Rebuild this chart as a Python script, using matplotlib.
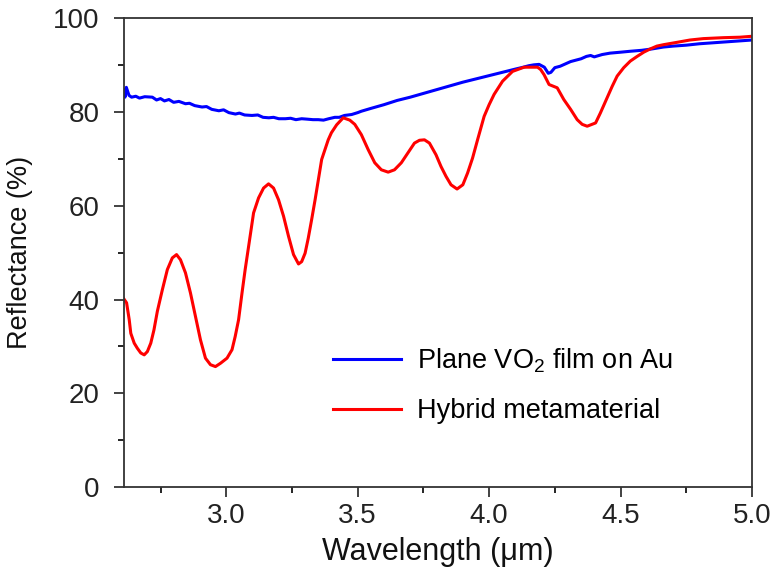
import matplotlib.pyplot as plt
from matplotlib.ticker import MultipleLocator

plt.rcParams['font.family'] = ['Liberation Sans', 'DejaVu Sans']
plt.rcParams['mathtext.fontset'] = 'custom'
plt.rcParams['mathtext.rm'] = 'Liberation Sans'

# Plane VO2 film on Au
wl_film = [2.61, 2.615, 2.62, 2.63, 2.64, 2.656, 2.67, 2.69, 2.719, 2.735, 2.75, 2.765,
           2.782, 2.80, 2.82, 2.845, 2.86, 2.88, 2.908, 2.925, 2.945, 2.972, 2.99, 3.01,
           3.035, 3.05, 3.07, 3.098, 3.12, 3.14, 3.162, 3.18, 3.20, 3.225, 3.245, 3.265,
           3.287, 3.31, 3.33, 3.35, 3.37, 3.39, 3.413, 3.43, 3.45, 3.477, 3.50, 3.514,
           3.55, 3.60, 3.65, 3.70, 3.75, 3.80, 3.85, 3.90, 3.95, 4.00, 4.05, 4.10,
           4.13, 4.15, 4.17, 4.19, 4.21, 4.225, 4.235, 4.25, 4.27, 4.29, 4.31, 4.33,
           4.35, 4.37, 4.386, 4.40, 4.43, 4.46, 4.50, 4.537, 4.58, 4.62, 4.663, 4.70,
           4.75, 4.80, 4.85, 4.90, 4.95, 5.0]
r_film = [84.8, 83.2, 85.3, 83.6, 83.2, 83.4, 83.0, 83.3, 83.2, 82.6, 82.9, 82.4,
          82.7, 82.1, 82.3, 81.8, 81.9, 81.4, 81.1, 81.2, 80.6, 80.3, 80.5, 79.9,
          79.6, 79.8, 79.4, 79.3, 79.4, 78.9, 78.8, 78.9, 78.6, 78.6, 78.7, 78.4,
          78.6, 78.5, 78.4, 78.4, 78.3, 78.6, 78.9, 78.9, 79.3, 79.5, 79.9, 80.2,
          80.8, 81.6, 82.5, 83.2, 84.0, 84.8, 85.6, 86.4, 87.1, 87.8, 88.5, 89.2,
          89.6, 89.9, 90.1, 90.2, 89.6, 88.3, 88.5, 89.5, 89.8, 90.3, 90.8, 91.1,
          91.4, 91.9, 92.1, 91.8, 92.3, 92.6, 92.8, 93.0, 93.2, 93.5, 93.9, 94.1,
          94.3, 94.6, 94.8, 95.0, 95.2, 95.4]

# Hybrid metamaterial
wl_hybrid = [2.61, 2.621, 2.631, 2.637, 2.650, 2.662, 2.675, 2.688, 2.700, 2.713,
             2.725, 2.738, 2.757, 2.776, 2.795, 2.811, 2.826, 2.845, 2.864, 2.883,
             2.902, 2.921, 2.940, 2.959, 2.978, 3.003, 3.022, 3.034, 3.047, 3.060,
             3.072, 3.085, 3.104, 3.123, 3.142, 3.161, 3.180, 3.199, 3.218, 3.237,
             3.256, 3.275, 3.287, 3.300, 3.312, 3.325, 3.338, 3.363, 3.388, 3.40,
             3.42, 3.445, 3.470, 3.489, 3.514, 3.540, 3.565, 3.590, 3.616, 3.64,
             3.666, 3.691, 3.716, 3.735, 3.754, 3.773, 3.798, 3.817, 3.836, 3.855,
             3.878, 3.900, 3.918, 3.937, 3.956, 3.981, 4.000, 4.019, 4.051, 4.089,
             4.133, 4.184, 4.196, 4.209, 4.228, 4.259, 4.284, 4.31, 4.335, 4.354,
             4.373, 4.405, 4.423, 4.449, 4.468, 4.487, 4.512, 4.537, 4.563, 4.588,
             4.613, 4.638, 4.663, 4.714, 4.764, 4.815, 4.891, 4.954, 5.0]
r_hybrid = [40.2, 39.3, 35.7, 32.8, 30.7, 29.6, 28.6, 28.2, 28.9, 30.7,
            33.5, 37.5, 42.1, 46.4, 48.9, 49.6, 48.5, 45.7, 41.4, 36.4,
            31.4, 27.5, 26.1, 25.7, 26.4, 27.5, 29.3, 32.1, 35.7, 41.4,
            46.4, 51.3, 58.5, 61.7, 63.8, 64.7, 63.8, 61.3, 57.8, 53.5,
            49.6, 47.6, 48.1, 49.9, 53.1, 57.1, 61.3, 69.9, 74.1, 75.6,
            77.3, 78.8, 78.3, 77.4, 75.2, 72.0, 69.2, 67.7, 67.2, 67.7,
            69.2, 71.3, 73.4, 74.0, 74.1, 73.4, 70.9, 68.4, 66.3, 64.5,
            63.6, 64.5, 67.0, 70.2, 74.1, 79.1, 81.6, 83.8, 86.6, 88.7,
            89.6, 89.6, 89.1, 88.0, 85.9, 85.2, 82.7, 80.6, 78.4, 77.4,
            77.0, 77.7, 79.8, 83.1, 85.5, 87.7, 89.5, 90.9, 91.9, 92.8,
            93.5, 94.1, 94.4, 94.9, 95.4, 95.7, 95.9, 96.0, 96.2]

fig = plt.figure(figsize=(7.78, 5.77), dpi=100)
ax = fig.add_axes([0.159, 0.156, 0.8076, 0.812])

ax.plot(wl_film, r_film, color='#0000ff', linewidth=2.2,
        label='Plane VO$_\\mathrm{2}$ film on Au')
ax.plot(wl_hybrid, r_hybrid, color='#ff0000', linewidth=2.2,
        label='Hybrid metamaterial')

ax.set_xlim(2.61, 5.0)
ax.set_ylim(0, 100)
ax.xaxis.set_major_locator(MultipleLocator(0.5))
ax.xaxis.set_minor_locator(MultipleLocator(0.25))
ax.yaxis.set_major_locator(MultipleLocator(20))
ax.yaxis.set_minor_locator(MultipleLocator(10))
ax.xaxis.set_major_formatter(plt.FormatStrFormatter('%.1f'))

ax.tick_params(which='major', direction='out', length=7.5, width=1.2,
               labelsize=20, colors='#222222')
ax.tick_params(which='minor', direction='out', length=4.5, width=1.2)
ax.tick_params(axis='y', which='major', pad=10)
ax.tick_params(axis='x', which='major', pad=4)
for s in ax.spines.values():
    s.set_linewidth(1.3)
    s.set_color('#333333')

ax.set_xlabel('Wavelength (μm)', fontsize=22, color='#111111', labelpad=6)
ax.set_ylabel('Reflectance (%)', fontsize=19.5, color='#111111', labelpad=14)

ax.legend(loc='upper left', bbox_to_anchor=(0.333, 0.30), frameon=False,
          borderpad=0, borderaxespad=0, fontsize=19.5, handlelength=2.5,
          handletextpad=0.6, labelspacing=0.87)

fig.savefig('out.png', dpi=100)
